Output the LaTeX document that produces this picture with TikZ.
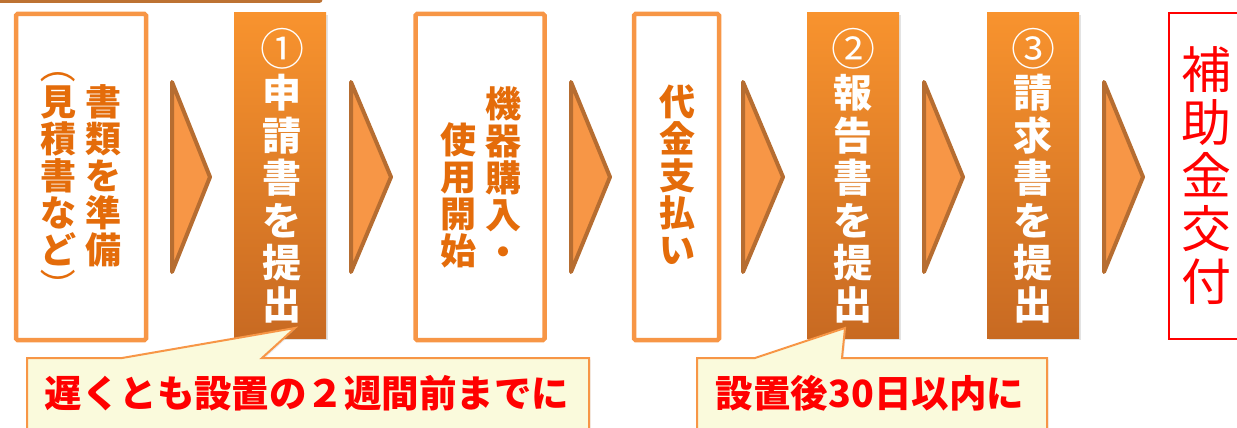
\documentclass[tikz,border=0pt]{standalone}
\usepackage{fontspec}
\newfontfamily\jp{Noto Sans CJK JP}
\usetikzlibrary{shadows}
\definecolor{orborder}{HTML}{F79646}
\definecolor{ortext}{HTML}{E46C0A}
\definecolor{chevfill}{HTML}{F79646}
\definecolor{chevline}{HTML}{B66D31}
\definecolor{gtop}{HTML}{F8932E}
\definecolor{gbot}{HTML}{C86A22}
\definecolor{calfill}{HTML}{FAFADC}
\definecolor{topline}{HTML}{BD7232}
\definecolor{redtxt}{HTML}{FF0000}
\newcommand\circnum[1]{{\mdseries\fontsize{44}{42.4}\selectfont #1}}
\begin{document}
\begin{tikzpicture}[x=1pt,y=-1pt,
  whitebox/.style={draw=orborder, line width=4.5pt, fill=white, rounded corners=1.5pt, minimum height=326pt, inner sep=0pt},
  orangebox/.style={top color=gtop, bottom color=gbot, draw=none, minimum width=92pt, minimum height=325pt, inner sep=0pt,
     drop shadow={opacity=0.22, shadow xshift=2pt, shadow yshift=-2pt}},
  redbox/.style={draw=redtxt, line width=1.5pt, fill=white, minimum width=82pt, minimum height=326pt, inner sep=0pt},
  chevron/.style={fill=chevfill, draw=chevline, line width=4pt, line join=round, line cap=round},
  callout/.style={fill=calfill, draw=orborder, line width=2pt, line join=miter,
     drop shadow={opacity=0.15, shadow xshift=1.5pt, shadow yshift=-1.5pt}},
  vt/.style={align=center, inner sep=0pt, font=\jp\bfseries\fontsize{36}{37}\selectfont, text=ortext},
  vparen/.style={inner sep=0pt, rotate=-90, font=\jp\fontsize{36}{37}\selectfont, text=ortext},
  vw/.style={align=center, inner sep=0pt, font=\jp\bfseries\fontsize{39}{42.4}\selectfont, text=white},
  vr/.style={align=center, inner sep=0pt, font=\jp\fontsize{50}{53}\selectfont, text=redtxt},
  ct/.style={inner sep=0pt, font=\jp\bfseries\fontsize{37.5}{40}\selectfont, text=redtxt}
]
\useasboundingbox (0,0) rectangle (1237,428);
\clip (0,0) rectangle (1237,428);

% top frame edge
\draw[topline, line width=3pt, rounded corners=2pt] (-10,-40) rectangle (321,1.5);

% boxes
\node[whitebox, minimum width=130pt] (b1) at (81,177) {};
\node[orangebox] (b2) at (280,175.5) {};
\node[whitebox, minimum width=129pt] (b3) at (480,177) {};
\node[whitebox, minimum width=85pt] (b4) at (676.5,177) {};
\node[orangebox] (b5) at (853,175.5) {};
\node[orangebox] (b6) at (1033,175.5) {};
\node[redbox, anchor=west] (b7) at (1168,176) {};

% chevrons
\foreach \l/\r in {172/210, 351/391, 571/610, 743/783, 924/963, 1104/1143}{
  \draw[chevron] (\l,82) -- (\r,177) -- (\l,272) -- cycle;
}

% texts
\node[vt] (t1a) at (103,176) {書\\類\\を\\準\\備};
\node[vt] (t1b) at (58,176) {見\\積\\書\\な\\ど};
\node[vparen] (p1) at (58,66) {（};
\node[vparen] (p2) at (58,286) {）};
\node[vw] (t2) at (282,176) {\circnum{①}\\申\\請\\書\\を\\提\\出};
\node[vt] (t3a) at (503,176) {機\\器\\購\\入\\・};
\node[vt] (t3b) at (458,195.5) {使\\用\\開\\始};
\node[vt] (t4) at (677,175) {代\\金\\支\\払\\い};
\node[vw] (t5) at (853,176) {\circnum{②}\\報\\告\\書\\を\\提\\出};
\node[vw] (t6) at (1033,176) {\circnum{③}\\請\\求\\書\\を\\提\\出};
\node[vr] (t7) at (1206,175.5) {補\\助\\金\\交\\付};

% callouts
\draw[callout] (27,358) -- (122,358) -- (295,328) -- (262,358) -- (589,358) -- (589,450) -- (27,450) -- cycle;
\draw[callout] (697,358) -- (755,358) -- (845,328) -- (842,358) -- (1047,358) -- (1047,450) -- (697,450) -- cycle;
\node[ct] (c1) at (307,393) {遅くとも設置の２週間前までに};
\node[ct] (c2) at (870,393) {設置後30日以内に};
\end{tikzpicture}
\end{document}
